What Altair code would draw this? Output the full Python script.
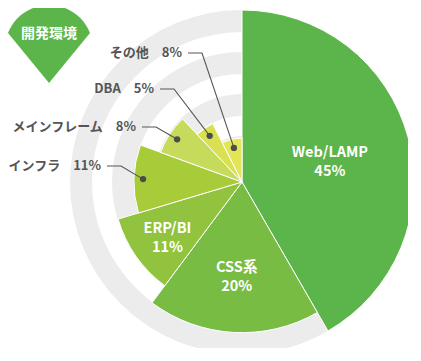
import math
import numpy as np
import pandas as pd
import altair as alt

# ---- data ----
categories = ["Web/LAMP", "CSS系", "ERP/BI", "インフラ", "メインフレーム", "DBA", "その他"]
shares = [45, 20, 11, 11, 8, 5, 8]
levels = [7, 6, 5, 4, 3, 2, 1]
colors = ["#5cb54a", "#78bc43", "#91c33f", "#a8cb39", "#c6da5b", "#d9e052", "#e3e556"]
inner_labels = ["Web/LAMP", "CSS系", "ERP/BI"]
outer_labels = ["インフラ", "メインフレーム", "DBA", "その他"]
badge_text = "開発環境"

# ---- layout ----
FONT = "Noto Sans CJK JP"
W, H = 400, 340
CX, CY = 234, 174
R_MIN, R_MAX = 44, 172
RINGS = [(150, 172), (108, 130), (66, 88), (24, 46)]
LABEL_Y = {"インフラ": 158, "メインフレーム": 119, "DBA": 81, "その他": 45}
SEG_X0 = {"インフラ": 99, "メインフレーム": 134, "DBA": 152, "その他": 180}
SEG_LEN = 14
DOT_INSET = 9
GREY_TXT = "#555555"

df = pd.DataFrame({
    "category": categories,
    "share": shares,
    "level": levels,
    "idx": list(range(len(categories))),
})
df["inner_label"] = [f"{c}\n{s}%" if c in inner_labels else "" for c, s in zip(categories, shares)]

theta_scale = alt.Scale(domain=[0, sum(shares)], range=[0, 2 * math.pi])
base = alt.Chart(df).transform_window(
    cum="sum(share)", sort=[alt.SortField("idx", order="ascending")]
).transform_calculate(
    start="datum.cum - datum.share",
    mid="datum.cum - datum.share / 2",
)

rings = [
    alt.Chart(pd.DataFrame({"k": [0]})).mark_arc(
        radius=ro, radius2=ri, theta=0, theta2=2 * math.pi, color="#ececec"
    ).encode(x=alt.value(CX), y=alt.value(CY))
    for ri, ro in RINGS
]

arcs = base.mark_arc(stroke="white", strokeWidth=1).encode(
    theta=alt.Theta("start:Q", scale=theta_scale),
    theta2="cum:Q",
    radius=alt.Radius("level:Q", scale=alt.Scale(type="linear", domain=[1, 7], range=[R_MIN, R_MAX], zero=False)),
    radius2=alt.value(0),
    color=alt.Color("category:N", scale=alt.Scale(domain=categories, range=colors), legend=None),
    x=alt.value(CX), y=alt.value(CY),
)

inner_text = base.mark_text(
    radius=91, lineBreak="\n", font=FONT, fontSize=14.5, fontWeight="bold",
    color="white", lineHeight=19, align="center", baseline="middle", dy=-5,
).encode(
    theta=alt.Theta("mid:Q", scale=theta_scale),
    text="inner_label:N", x=alt.value(CX), y=alt.value(CY),
)

# dot positions derived from the data (mid-angle of each slice)
total = sum(shares)
starts = np.cumsum([0] + shares[:-1])
mid = (starts + np.array(shares) / 2) / total * 2 * np.pi
rad = R_MIN + (np.array(levels) - 1) * (R_MAX - R_MIN) / 6 - DOT_INSET
dot_x = CX + rad * np.sin(mid)
dot_y = CY - rad * np.cos(mid)

line_rows, dot_rows, text_rows = [], [], []
for c in outer_labels:
    i = categories.index(c)
    y = LABEL_Y[c]
    x0 = SEG_X0[c]
    line_rows += [
        {"category": c, "pt": 0, "x": x0, "y": y},
        {"category": c, "pt": 1, "x": x0 + SEG_LEN, "y": y},
        {"category": c, "pt": 2, "x": float(dot_x[i]), "y": float(dot_y[i])},
    ]
    dot_rows.append({"category": c, "x": float(dot_x[i]), "y": float(dot_y[i])})
    text_rows.append({"category": c, "label": f"{c}　{shares[i]}%", "x": x0 - 6, "y": y})

lines = alt.Chart(pd.DataFrame(line_rows)).mark_line(color=GREY_TXT, strokeWidth=1.1).encode(
    x=alt.X("x:Q", scale=None, axis=None),
    y=alt.Y("y:Q", scale=None, axis=None),
    detail="category:N",
    order="pt:Q",
)
dots = alt.Chart(pd.DataFrame(dot_rows)).mark_circle(color="#4d4d4d", size=40, opacity=1).encode(
    x=alt.X("x:Q", scale=None, axis=None),
    y=alt.Y("y:Q", scale=None, axis=None),
)
outer_text = alt.Chart(pd.DataFrame(text_rows)).mark_text(
    font=FONT, fontSize=13, fontWeight="bold", color=GREY_TXT, align="right", baseline="middle",
).encode(
    x=alt.X("x:Q", scale=None, axis=None),
    y=alt.Y("y:Q", scale=None, axis=None),
    text="label:N",
)

# badge: circular top with a pointed bottom
S = 44.0
cy_off = 5 / S
phi_max = math.atan2(41, 16)
pts = []
for k in range(25):
    p = -phi_max + 2 * phi_max * k / 24
    pts.append((math.sin(p), cy_off - math.cos(p)))
pts.append((0.0, 39 / S))
badge_path = "M " + " L ".join(f"{px:.4f} {py:.4f}" for px, py in pts) + " Z"

badge = alt.Chart(pd.DataFrame({"k": [0]})).mark_point(
    shape=badge_path, size=(2 * S) ** 2, filled=True, color="#5cb54a", opacity=1, strokeWidth=0,
).encode(x=alt.value(41), y=alt.value(36))
badge_label = alt.Chart(pd.DataFrame({"t": [badge_text]})).mark_text(
    font=FONT, fontSize=14, fontWeight="bold", color="white", align="center", baseline="middle",
).encode(text="t:N", x=alt.value(41), y=alt.value(26))

chart = alt.layer(
    *rings, arcs, inner_text, lines, dots, outer_text, badge, badge_label
).properties(
    width=W, height=H, padding=0,
    autosize=alt.AutoSizeParams(type="none"),
).configure_view(strokeWidth=0)

chart.save("out.html", embed_options={"renderer": "svg", "actions": False})
